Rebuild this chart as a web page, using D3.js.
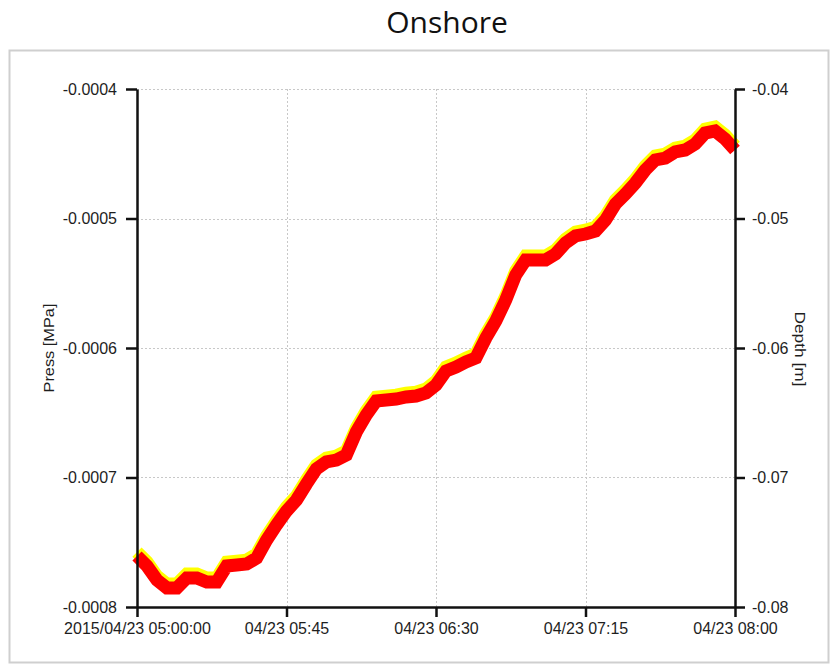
<!DOCTYPE html>
<html>
<head>
<meta charset="utf-8">
<script src="https://cdn.jsdelivr.net/npm/d3@7"></script>
<style>
  html, body { margin: 0; padding: 0; background: #fff; }
  svg { display: block; }
</style>
</head>
<body>
<svg id="chart" width="830" height="666"></svg>
<script>
// Water pressure and equivalent depth, sampled every 3 minutes, 05:00 - 08:00
const startTime = new Date(2015, 3, 23, 5, 0, 0);
const endTime = new Date(2015, 3, 23, 8, 0, 0);
const sampleMinutes = 3;

const pressValues = [
  -0.0007576, -0.0007653, -0.0007762, -0.0007823, -0.0007823, -0.0007746, -0.0007746, -0.0007777,
  -0.0007777, -0.0007653, -0.0007646, -0.0007638, -0.0007592, -0.0007453, -0.0007337, -0.0007229,
  -0.0007144, -0.0007020, -0.0006904, -0.0006850, -0.0006835, -0.0006796, -0.0006619, -0.0006487,
  -0.0006379, -0.0006372, -0.0006364, -0.0006348, -0.0006341, -0.0006317, -0.0006256, -0.0006148,
  -0.0006117, -0.0006078, -0.0006047, -0.0005893, -0.0005762, -0.0005599, -0.0005406, -0.0005290,
  -0.0005290, -0.0005290, -0.0005244, -0.0005159, -0.0005105, -0.0005090, -0.0005067, -0.0004982,
  -0.0004858, -0.0004781, -0.0004696, -0.0004595, -0.0004518, -0.0004503, -0.0004456, -0.0004441,
  -0.0004395, -0.0004310, -0.0004294, -0.0004356, -0.0004441
];

const depthValues = [
  -0.07606, -0.07683, -0.07792, -0.07853, -0.07853, -0.07776, -0.07776, -0.07807,
  -0.07807, -0.07683, -0.07676, -0.07668, -0.07622, -0.07483, -0.07367, -0.07259,
  -0.07174, -0.07050, -0.06934, -0.06880, -0.06865, -0.06826, -0.06649, -0.06517,
  -0.06409, -0.06402, -0.06394, -0.06378, -0.06371, -0.06347, -0.06286, -0.06178,
  -0.06147, -0.06108, -0.06077, -0.05923, -0.05792, -0.05629, -0.05436, -0.05320,
  -0.05320, -0.05320, -0.05274, -0.05189, -0.05135, -0.05120, -0.05097, -0.05012,
  -0.04888, -0.04811, -0.04726, -0.04625, -0.04548, -0.04533, -0.04486, -0.04471,
  -0.04425, -0.04340, -0.04324, -0.04386, -0.04471
];

const pressTicks = [-0.0004, -0.0005, -0.0006, -0.0007, -0.0008];
const pressTickLabels = ["-0.0004", "-0.0005", "-0.0006", "-0.0007", "-0.0008"];
const depthTicks = [-0.04, -0.05, -0.06, -0.07, -0.08];
const depthTickLabels = ["-0.04", "-0.05", "-0.06", "-0.07", "-0.08"];
const timeTicks = [
  new Date(2015, 3, 23, 5, 0), new Date(2015, 3, 23, 5, 45), new Date(2015, 3, 23, 6, 30),
  new Date(2015, 3, 23, 7, 15), new Date(2015, 3, 23, 8, 0)
];
const timeTickLabels = ["2015/04/23 05:00:00", "04/23 05:45", "04/23 06:30", "04/23 07:15", "04/23 08:00"];

const title = "Onshore";
const pressLabel = "Press [MPa]";
const depthLabel = "Depth [m]";

const svg = d3.select("#chart");
const plot = { left: 137, right: 735, top: 89, bottom: 607 };
const tickFont = "'Liberation Sans', Arial, sans-serif";
const textColor = "#1e1e1e";

// outer frame
svg.append("rect")
  .attr("x", 9.5).attr("y", 50.5)
  .attr("width", 819).attr("height", 612)
  .attr("fill", "#fff").attr("stroke", "#cfcfcf").attr("stroke-width", 2);

svg.append("text")
  .attr("x", 447).attr("y", 33)
  .attr("text-anchor", "middle")
  .attr("font-family", "'Open Sans', 'Noto Sans', sans-serif")
  .attr("font-size", 30)
  .attr("fill", "#111")
  .text(title);

const x = d3.scaleTime().domain([startTime, endTime]).range([plot.left, plot.right]);
const yPress = d3.scaleLinear().domain([-0.0008, -0.0004]).range([plot.bottom, plot.top]);
const yDepth = d3.scaleLinear().domain([-0.08, -0.04]).range([plot.bottom, plot.top]);

const timeAt = i => new Date(startTime.getTime() + i * sampleMinutes * 60000);

// dotted grid
const grid = svg.append("g").attr("stroke", "#c8c8c8").attr("stroke-width", 1).attr("stroke-dasharray", "2,2");
grid.selectAll("line.h").data(pressTicks.slice(0, 4)).join("line")
  .attr("x1", plot.left).attr("x2", plot.right)
  .attr("y1", d => Math.round(yPress(d)) + 0.5).attr("y2", d => Math.round(yPress(d)) + 0.5);
grid.selectAll("line.v").data(timeTicks.slice(1, 4)).join("line")
  .attr("y1", plot.top).attr("y2", plot.bottom)
  .attr("x1", d => Math.round(x(d)) + 0.5).attr("x2", d => Math.round(x(d)) + 0.5);

// series: pressure (yellow) underneath, depth (red) on top
const pressLine = d3.line().x((d, i) => x(timeAt(i))).y(d => yPress(d)).curve(d3.curveLinear);
const depthLine = d3.line().x((d, i) => x(timeAt(i))).y(d => yDepth(d)).curve(d3.curveLinear);

svg.append("path").datum(pressValues)
  .attr("d", pressLine)
  .attr("fill", "none").attr("stroke", "#ffff00").attr("stroke-width", 13)
  .attr("stroke-linejoin", "miter").attr("stroke-linecap", "butt");

svg.append("path").datum(depthValues)
  .attr("d", depthLine)
  .attr("fill", "none").attr("stroke", "#ff0000").attr("stroke-width", 13)
  .attr("stroke-linejoin", "miter").attr("stroke-linecap", "butt");

// axes
function styleAxis(g) {
  g.selectAll(".domain").attr("stroke", "#111").attr("stroke-width", 2.5);
  g.selectAll(".tick line").attr("stroke", "#111").attr("stroke-width", 2.5);
  g.selectAll(".tick text").attr("font-family", tickFont).attr("font-size", 16).attr("fill", textColor);
}

svg.append("g")
  .attr("transform", `translate(${plot.left},0)`)
  .call(d3.axisLeft(yPress).tickValues(pressTicks)
    .tickFormat((d, i) => pressTickLabels[i]).tickSize(11).tickSizeOuter(0).tickPadding(9))
  .call(styleAxis);

svg.append("g")
  .attr("transform", `translate(${plot.right},0)`)
  .call(d3.axisRight(yDepth).tickValues(depthTicks)
    .tickFormat((d, i) => depthTickLabels[i]).tickSize(10).tickSizeOuter(0).tickPadding(7))
  .call(styleAxis);

svg.append("g")
  .attr("transform", `translate(0,${plot.bottom})`)
  .call(d3.axisBottom(x).tickValues(timeTicks)
    .tickFormat((d, i) => timeTickLabels[i]).tickSize(10).tickSizeOuter(0).tickPadding(6))
  .call(styleAxis);

// axis titles
svg.append("text")
  .attr("transform", `translate(54,348) rotate(-90)`)
  .attr("text-anchor", "middle")
  .attr("font-family", tickFont).attr("font-size", 14)
  .attr("textLength", 89).attr("lengthAdjust", "spacingAndGlyphs")
  .attr("fill", textColor)
  .text(pressLabel);

svg.append("text")
  .attr("transform", `translate(795,349) rotate(90)`)
  .attr("text-anchor", "middle")
  .attr("font-family", tickFont).attr("font-size", 14)
  .attr("textLength", 75).attr("lengthAdjust", "spacingAndGlyphs")
  .attr("fill", textColor)
  .text(depthLabel);
</script>
</body>
</html>
